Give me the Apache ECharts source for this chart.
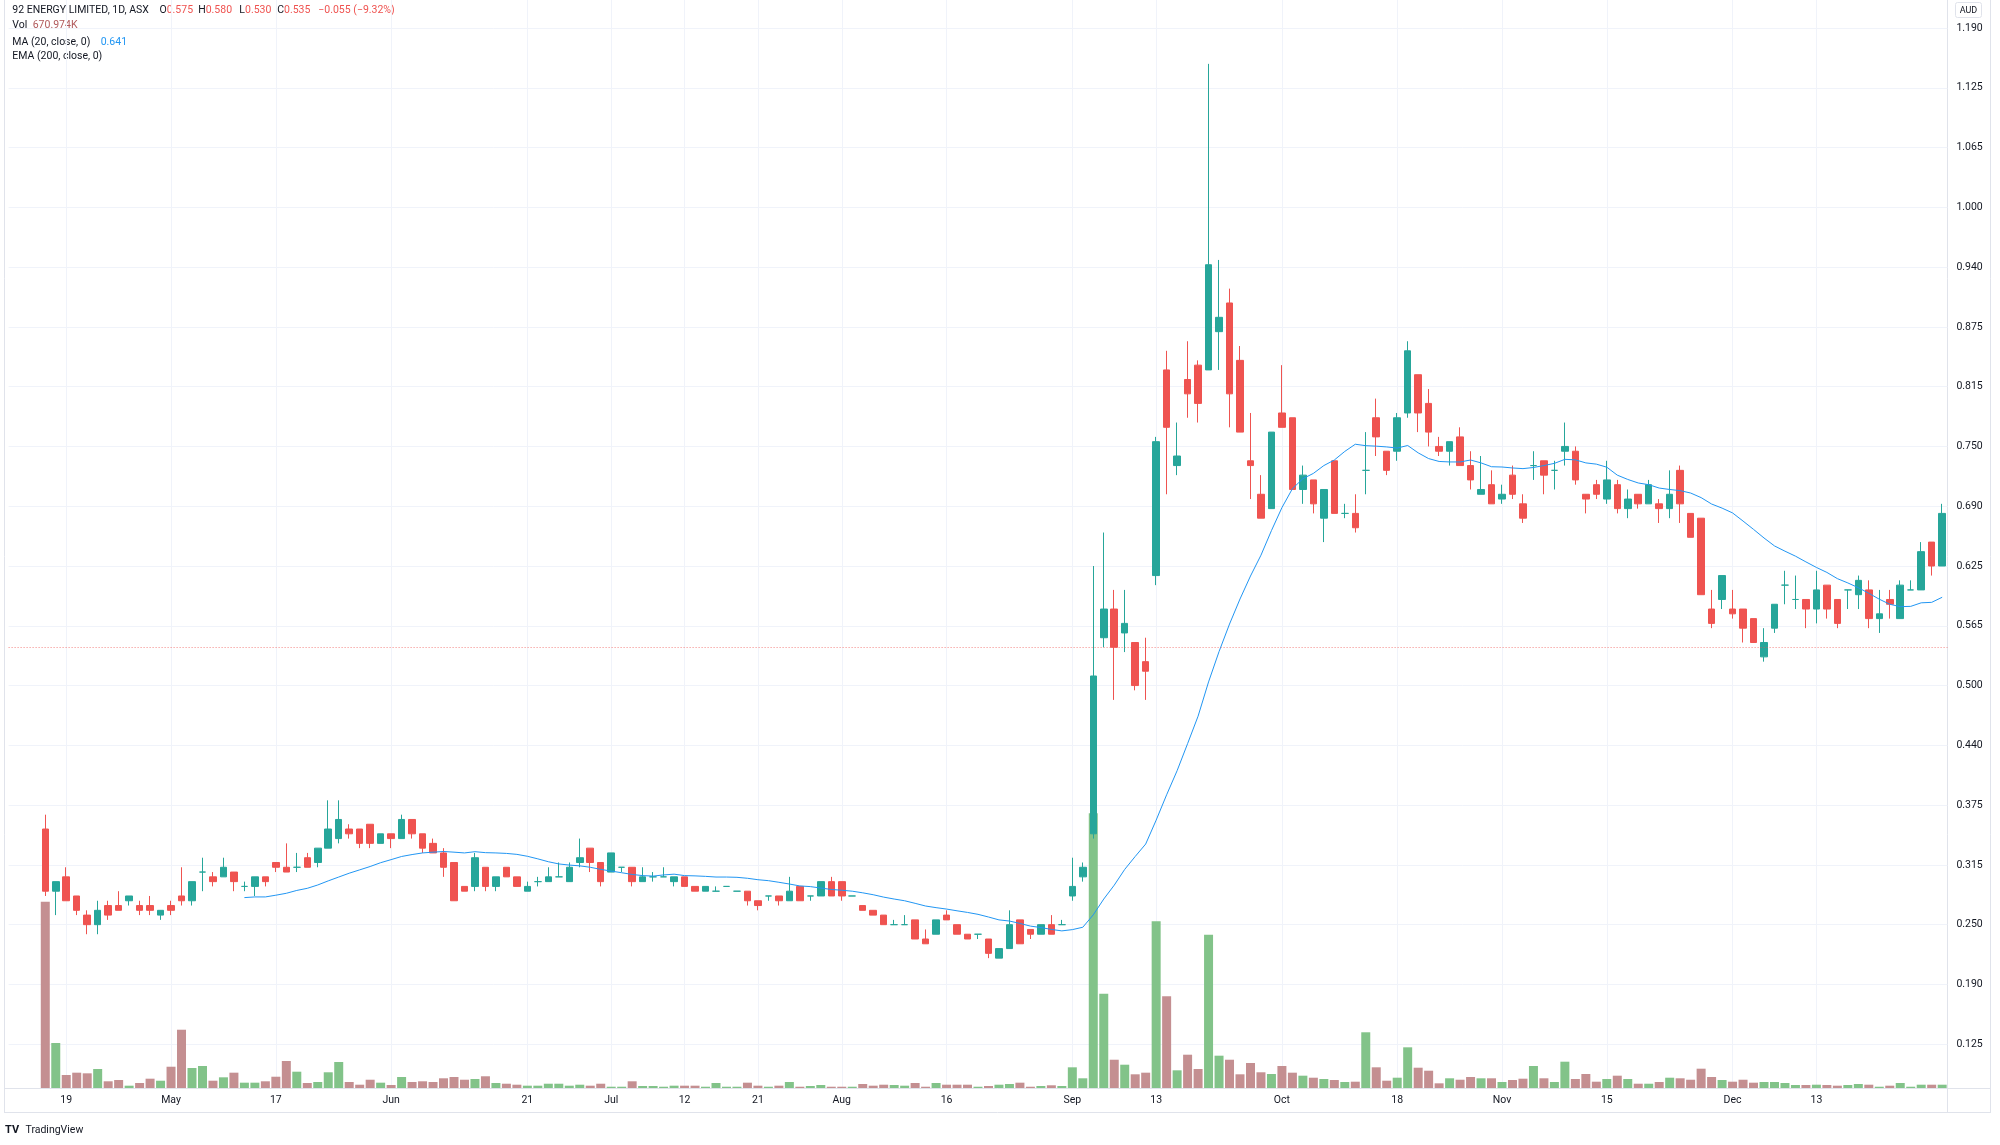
<!DOCTYPE html>
<html>
<head>
<meta charset="utf-8">
<script src="https://cdn.jsdelivr.net/npm/echarts@6/dist/echarts.min.js"></script>
<style>
  html, body { margin: 0; padding: 0; background: #fff; }
  #chart { width: 2000px; height: 1145px; }
</style>
</head>
<body>
<div id="chart"></div>
<script>
// 92 ENERGY LIMITED (ASX), daily candles, mid April -> end of December
const open = [
  0.350,0.285,0.300,0.280,0.260,0.250,0.270,0.270,0.275,0.270,
  0.270,0.260,0.270,0.280,0.275,0.305,0.300,0.300,0.305,0.290,
  0.290,0.300,0.315,0.310,0.310,0.320,0.315,0.330,0.340,0.350,
  0.350,0.355,0.335,0.345,0.340,0.360,0.345,0.335,0.325,0.315,
  0.290,0.290,0.310,0.290,0.310,0.300,0.285,0.295,0.295,0.300,
  0.295,0.315,0.330,0.315,0.305,0.310,0.310,0.295,0.300,0.300,
  0.295,0.300,0.290,0.285,0.285,0.290,0.285,0.285,0.275,0.280,
  0.280,0.275,0.290,0.280,0.280,0.295,0.295,0.280,0.270,0.265,
  0.260,0.250,0.250,0.255,0.235,0.240,0.260,0.250,0.240,0.240,
  0.235,0.215,0.225,0.255,0.245,0.240,0.250,0.250,0.280,0.300,
  0.345,0.550,0.580,0.555,0.545,0.525,0.615,0.830,0.730,0.820,
  0.835,0.830,0.870,0.900,0.840,0.735,0.700,0.685,0.785,0.780,
  0.705,0.715,0.675,0.735,0.680,0.680,0.725,0.780,0.745,0.745,
  0.785,0.825,0.795,0.750,0.745,0.760,0.730,0.700,0.710,0.695,
  0.720,0.690,0.730,0.735,0.725,0.745,0.745,0.700,0.710,0.695,
  0.710,0.685,0.700,0.690,0.690,0.685,0.725,0.680,0.675,0.580,
  0.590,0.580,0.580,0.570,0.530,0.560,0.605,0.590,0.590,0.580,
  0.605,0.590,0.600,0.595,0.600,0.570,0.590,0.570,0.600,0.600,
  0.650,0.625
];
const high = [
  0.365,0.295,0.310,0.280,0.265,0.275,0.275,0.285,0.280,0.275,
  0.280,0.265,0.275,0.310,0.295,0.320,0.305,0.320,0.305,0.295,
  0.300,0.300,0.315,0.335,0.325,0.325,0.330,0.380,0.380,0.355,
  0.350,0.355,0.345,0.345,0.365,0.360,0.345,0.340,0.330,0.315,
  0.290,0.325,0.310,0.300,0.310,0.300,0.295,0.300,0.310,0.315,
  0.315,0.340,0.330,0.315,0.325,0.310,0.310,0.310,0.305,0.310,
  0.300,0.300,0.290,0.290,0.290,0.290,0.285,0.285,0.275,0.280,
  0.280,0.300,0.290,0.280,0.295,0.300,0.295,0.280,0.270,0.265,
  0.260,0.255,0.260,0.255,0.245,0.255,0.265,0.250,0.240,0.240,
  0.235,0.225,0.265,0.255,0.245,0.250,0.260,0.255,0.320,0.315,
  0.625,0.660,0.600,0.600,0.545,0.550,0.760,0.850,0.775,0.860,
  0.840,1.150,0.945,0.915,0.855,0.785,0.720,0.765,0.835,0.780,
  0.730,0.715,0.705,0.735,0.690,0.700,0.765,0.800,0.745,0.785,
  0.860,0.825,0.810,0.760,0.755,0.770,0.745,0.740,0.725,0.710,
  0.730,0.700,0.745,0.735,0.735,0.775,0.750,0.700,0.715,0.735,
  0.715,0.705,0.700,0.715,0.695,0.725,0.730,0.680,0.675,0.600,
  0.615,0.600,0.580,0.570,0.560,0.585,0.620,0.615,0.590,0.620,
  0.605,0.590,0.600,0.615,0.610,0.600,0.600,0.610,0.610,0.650,
  0.650,0.690
];
const low = [
  0.280,0.260,0.275,0.260,0.240,0.240,0.255,0.265,0.270,0.260,
  0.260,0.255,0.260,0.270,0.270,0.285,0.290,0.300,0.285,0.285,
  0.280,0.290,0.305,0.305,0.305,0.310,0.310,0.330,0.335,0.340,
  0.330,0.330,0.335,0.330,0.340,0.340,0.325,0.325,0.300,0.275,
  0.285,0.285,0.285,0.285,0.300,0.290,0.285,0.290,0.295,0.300,
  0.295,0.310,0.305,0.290,0.305,0.305,0.290,0.295,0.295,0.300,
  0.290,0.290,0.285,0.285,0.285,0.290,0.285,0.270,0.265,0.275,
  0.270,0.275,0.275,0.275,0.280,0.280,0.275,0.280,0.265,0.260,
  0.250,0.250,0.250,0.235,0.230,0.240,0.255,0.240,0.235,0.235,
  0.215,0.215,0.225,0.230,0.235,0.240,0.240,0.250,0.275,0.295,
  0.340,0.540,0.485,0.535,0.495,0.485,0.605,0.700,0.720,0.780,
  0.775,0.830,0.830,0.770,0.765,0.695,0.675,0.685,0.770,0.705,
  0.690,0.680,0.650,0.680,0.675,0.660,0.700,0.740,0.720,0.735,
  0.780,0.765,0.750,0.740,0.730,0.730,0.705,0.700,0.690,0.690,
  0.695,0.670,0.715,0.700,0.705,0.730,0.710,0.680,0.695,0.690,
  0.680,0.675,0.685,0.690,0.670,0.675,0.670,0.655,0.595,0.560,
  0.580,0.570,0.545,0.545,0.525,0.555,0.585,0.580,0.560,0.565,
  0.570,0.560,0.580,0.580,0.560,0.555,0.570,0.570,0.600,0.600,
  0.615,0.625
];
const close = [
  0.285,0.295,0.275,0.265,0.250,0.265,0.260,0.265,0.280,0.265,
  0.265,0.265,0.265,0.275,0.295,0.305,0.295,0.310,0.295,0.290,
  0.300,0.295,0.310,0.305,0.310,0.310,0.330,0.350,0.360,0.345,
  0.335,0.335,0.345,0.340,0.360,0.345,0.330,0.325,0.310,0.275,
  0.285,0.320,0.290,0.300,0.300,0.290,0.290,0.295,0.300,0.300,
  0.310,0.320,0.315,0.295,0.325,0.310,0.295,0.300,0.300,0.300,
  0.300,0.290,0.285,0.290,0.285,0.290,0.285,0.275,0.270,0.280,
  0.275,0.285,0.275,0.280,0.295,0.280,0.280,0.280,0.265,0.260,
  0.250,0.250,0.250,0.235,0.230,0.255,0.255,0.240,0.235,0.240,
  0.220,0.225,0.250,0.230,0.240,0.250,0.240,0.250,0.290,0.310,
  0.510,0.580,0.540,0.565,0.500,0.515,0.755,0.770,0.740,0.805,
  0.795,0.940,0.885,0.805,0.765,0.730,0.675,0.765,0.770,0.705,
  0.720,0.690,0.705,0.680,0.680,0.665,0.725,0.760,0.725,0.780,
  0.850,0.785,0.765,0.745,0.755,0.730,0.715,0.705,0.690,0.700,
  0.700,0.675,0.730,0.720,0.725,0.750,0.715,0.695,0.700,0.715,
  0.685,0.695,0.690,0.710,0.685,0.700,0.690,0.655,0.595,0.565,
  0.615,0.575,0.560,0.545,0.545,0.585,0.605,0.590,0.580,0.600,
  0.580,0.565,0.600,0.610,0.570,0.575,0.585,0.605,0.600,0.640,
  0.625,0.680
];
// volume, millions of shares
const volume = [
  37.8,9.14,2.64,3.11,2.98,3.86,1.36,1.62,0.47,1.02,
  1.89,1.48,4.32,11.83,4.06,4.47,1.48,2.17,3.11,1.08,
  1.08,1.36,2.29,5.48,3.31,1.02,1.22,3.19,5.28,1.22,
  0.67,1.68,1.08,0.61,2.23,1.22,1.36,1.22,1.97,2.23,
  1.68,1.83,2.38,1.02,0.87,0.67,0.47,0.47,0.87,0.87,
  0.47,0.67,0.47,0.87,0.26,0.26,1.36,0.41,0.41,0.26,
  0.47,0.47,0.47,0.26,1.02,0.26,0.26,1.08,0.47,0.26,
  0.47,1.22,0.26,0.41,0.61,0.26,0.26,0.26,0.81,0.47,
  0.67,0.61,0.47,1.02,0.26,1.02,0.67,0.67,0.67,0.26,
  0.41,0.67,0.81,1.08,0.26,0.41,0.55,0.41,4.2,1.97,
  55.78,19.14,5.74,4.73,2.78,3.11,33.84,18.62,3.59,6.76,
  3.86,31.12,6.56,5.74,2.78,5.08,3.19,2.84,4.47,3.11,
  2.5,2.09,1.83,1.62,1.22,1.28,11.31,4.2,1.48,2.09,
  8.26,4.12,3.51,0.95,1.97,1.68,2.23,1.97,1.97,1.22,
  1.62,1.89,4.47,1.97,1.22,5.34,1.83,2.84,1.28,1.83,
  2.5,1.83,0.87,0.87,1.22,2.09,1.97,1.68,3.92,2.23,
  1.62,1.28,1.68,1.08,1.22,1.22,1.02,0.61,0.61,0.67,
  0.61,0.47,0.61,0.81,0.67,0.26,0.47,1.02,0.26,0.67,
  0.67,0.67
];
// MA (20, close) as drawn, first value on bar 19
const ma20Start = 19;
const ma20 = [
  0.2783,0.2790,0.2790,0.2808,0.2828,0.2858,0.2880,0.2915,0.2958,0.2998,
  0.3038,0.3073,0.3108,0.3148,0.3180,0.3213,0.3233,0.3250,0.3258,0.3265,
  0.3258,0.3250,0.3263,0.3253,0.3250,0.3245,0.3235,0.3215,0.3188,0.3158,
  0.3135,0.3123,0.3115,0.3100,0.3078,0.3060,0.3043,0.3025,0.3013,0.3008,
  0.3020,0.3028,0.3013,0.3010,0.3005,0.2998,0.2998,0.2995,0.2985,0.2970,
  0.2960,0.2943,0.2925,0.2905,0.2898,0.2883,0.2868,0.2860,0.2850,0.2833,
  0.2813,0.2788,0.2768,0.2750,0.2723,0.2695,0.2678,0.2663,0.2645,0.2628,
  0.2608,0.2580,0.2550,0.2538,0.2513,0.2485,0.2470,0.2450,0.2435,0.2448,
  0.2473,0.2603,0.2768,0.2913,0.3078,0.3213,0.3343,0.3593,0.3858,0.4110,
  0.4393,0.4680,0.5038,0.5355,0.5643,0.5905,0.6145,0.6363,0.6620,0.6860,
  0.7058,0.7163,0.7218,0.7300,0.7358,0.7448,0.7523,0.7508,0.7503,0.7495,
  0.7483,0.7510,0.7433,0.7373,0.7343,0.7338,0.7338,0.7358,0.7328,0.7288,
  0.7285,0.7275,0.7268,0.7280,0.7300,0.7323,0.7365,0.7360,0.7328,0.7315,
  0.7283,0.7200,0.7155,0.7118,0.7100,0.7065,0.7050,0.7038,0.7013,0.6965,
  0.6898,0.6855,0.6805,0.6720,0.6633,0.6543,0.6460,0.6405,0.6353,0.6293,
  0.6235,0.6183,0.6118,0.6073,0.6023,0.5965,0.5903,0.5850,0.5825,0.5828,
  0.5865,0.5870,0.5923
];
// date labels under the chart: [bar index, text]
const dateTicks = [
  [2,'19'],[12,'May'],[22,'17'],[33,'Jun'],[46,'21'],[54,'Jul'],[61,'12'],
  [68,'21'],[76,'Aug'],[86,'16'],[98,'Sep'],[106,'13'],[118,'Oct'],[129,'18'],
  [139,'Nov'],[149,'15'],[161,'Dec'],[169,'13']
];
const priceMin = 0.0625, priceMax = 1.1875, priceStep = 0.0625;
const lastPrice = 0.535;

const UP = '#26a69a', DOWN = '#ef5350';
const VOL_UP = '#82c389', VOL_DOWN = '#c48f91';
const LINE = '#e0e3eb', GRID = '#f0f3fa', TXT = '#131722';
const FONT = 'Roboto';

// 3 empty slots on the left, like the scrolled TradingView pane
const PAD = 3;
const slot = 10.48, gLeft = 8.6;
const n = close.length + PAD;

let cats = [], candles = [], vols = [], maLine = [];
for (let i = 0; i < n; i++) cats.push(String(i - PAD));
for (let i = 0; i < PAD; i++) { candles.push('-'); vols.push('-'); maLine.push('-'); }
for (let i = 0; i < close.length; i++) {
  candles.push([open[i], close[i], low[i], high[i]]);
  vols.push({ value: volume[i], itemStyle: { color: close[i] >= open[i] ? VOL_UP : VOL_DOWN } });
  maLine.push(i >= ma20Start ? ma20[i - ma20Start] : '-');
}
let tickAt = {};
dateTicks.forEach(function (t) { tickAt[t[0] + PAD] = t[1]; });

// hide the split line at the bottom tick (it sits under the date axis)
let gridColors = ['rgba(0,0,0,0)'];
for (let i = 0; i < 30; i++) gridColors.push(GRID);

function txt(x, y, s, color, extra) {
  return Object.assign({
    type: 'text', x: x, y: y, silent: true,
    style: { text: s, fill: color || TXT, font: '10.5px ' + FONT,
             verticalAlign: 'middle', textVerticalAlign: 'middle' }
  }, extra || {});
}
function vline(x, y1, y2) {
  return { type: 'line', silent: true, shape: { x1: x, y1: y1, x2: x, y2: y2 }, style: { stroke: LINE, lineWidth: 1 } };
}
function hline(y, x1, x2) {
  return { type: 'line', silent: true, shape: { x1: x1, y1: y, x2: x2, y2: y }, style: { stroke: LINE, lineWidth: 1 } };
}

let myChart = echarts.init(document.getElementById('chart'));

let option = {
  animation: false,
  backgroundColor: '#ffffff',
  grid: [
    // frame: date labels + vertical grid lines at candle centres
    { left: gLeft + slot / 2, width: slot * (n - 1), top: 0, height: 1088, outerBoundsMode: 'none' },
    // price pane
    { left: gLeft, width: slot * n, top: 28, height: 1076, outerBoundsMode: 'none' },
    // volume overlay
    { left: gLeft, width: slot * n, top: 788, height: 300, outerBoundsMode: 'none' }
  ],
  xAxis: [
    {
      gridIndex: 0, type: 'category', data: cats, boundaryGap: false,
      axisLine: { show: false }, axisTick: { show: false },
      axisLabel: {
        interval: function (i) { return tickAt[i] !== undefined; },
        formatter: function (v, i) { return tickAt[i] || ''; },
        color: TXT, fontFamily: FONT, fontSize: 10.5, margin: 7
      },
      splitLine: {
        show: true,
        interval: function (i) { return tickAt[i] !== undefined; },
        lineStyle: { color: GRID, width: 1 }
      }
    },
    { gridIndex: 1, type: 'category', data: cats, boundaryGap: true, show: false },
    { gridIndex: 2, type: 'category', data: cats, boundaryGap: true, show: false }
  ],
  yAxis: [
    { gridIndex: 0, type: 'value', show: false, splitLine: { show: false } },
    {
      gridIndex: 1, type: 'value', position: 'right',
      min: priceMin, max: priceMax, interval: priceStep,
      axisLine: { show: false }, axisTick: { show: false },
      axisLabel: {
        margin: 9, color: TXT, fontFamily: FONT, fontSize: 10.5,
        formatter: function (v) {
          if (v < 0.1) return '';
          return (Math.ceil(v * 200 - 1e-6) / 200).toFixed(3);
        }
      },
      splitLine: { show: true, lineStyle: { color: gridColors, width: 1 } }
    },
    { gridIndex: 2, type: 'value', min: 0, max: 60.9, show: false, splitLine: { show: false } }
  ],
  series: [
    {
      name: 'Vol', type: 'bar', xAxisIndex: 2, yAxisIndex: 2,
      data: vols, barWidth: 9, z: 1, silent: true
    },
    {
      name: '92E', type: 'candlestick', xAxisIndex: 1, yAxisIndex: 1,
      data: candles, barWidth: 7, z: 2,
      itemStyle: {
        color: UP, color0: DOWN, borderColor: UP, borderColor0: DOWN,
        borderColorDoji: UP, borderWidth: 1
      },
      markLine: {
        silent: true, symbol: ['none', 'none'], label: { show: false },
        lineStyle: { type: [1, 2], color: 'rgba(239,83,80,0.7)', width: 1 },
        data: [{ yAxis: lastPrice }]
      }
    },
    {
      name: 'MA 20', type: 'line', xAxisIndex: 1, yAxisIndex: 1,
      data: maLine, symbol: 'none', showSymbol: false, z: 3, silent: true,
      lineStyle: { color: '#2196f3', width: 1 }
    }
  ],
  graphic: [
    // pane borders
    vline(4.5, 0, 1113), vline(1947.5, 0, 1113), vline(1990.5, 0, 1113),
    hline(1088.5, 4.5, 1990.5), hline(1112.5, 4.5, 1990.5),
    // legend
    txt(12.3, 10, '92 ENERGY LIMITED, 1D, ASX'),
    txt(159.5, 10, 'O'), txt(166.7, 10, '0.575', DOWN),
    txt(198.2, 10, 'H'), txt(205.7, 10, '0.580', DOWN),
    txt(239.3, 10, 'L'), txt(245, 10, '0.530', DOWN),
    txt(277.2, 10, 'C'), txt(284, 10, '0.535', DOWN),
    txt(318.3, 10, '\u22120.055 (\u22129.32%)', DOWN),
    txt(12.3, 25, 'Vol'), txt(32.7, 25, '670.974K', '#b0585a'),
    txt(12.3, 42, 'MA (20, close, 0)'), txt(100.7, 42, '0.641', '#2196f3'),
    txt(12.3, 56.5, 'EMA (200, close, 0)'),
    // currency tag
    { type: 'rect', silent: true, shape: { x: 1955.5, y: 2.5, width: 26, height: 15, r: 2 },
      style: { fill: '#fff', stroke: LINE, lineWidth: 1 } },
    txt(1968.5, 10.5, 'AUD', TXT, { style: { text: 'AUD', fill: TXT, font: '9px ' + FONT,
      align: 'center', textAlign: 'center', verticalAlign: 'middle', textVerticalAlign: 'middle' } }),
    // watermark
    txt(5, 1130, 'TV', TXT, { style: { text: 'TV', fill: TXT, font: 'bold 11px ' + FONT,
      verticalAlign: 'middle', textVerticalAlign: 'middle' } }),
    txt(25.5, 1130, 'TradingView')
  ]
};

myChart.setOption(option);
</script>
</body>
</html>
